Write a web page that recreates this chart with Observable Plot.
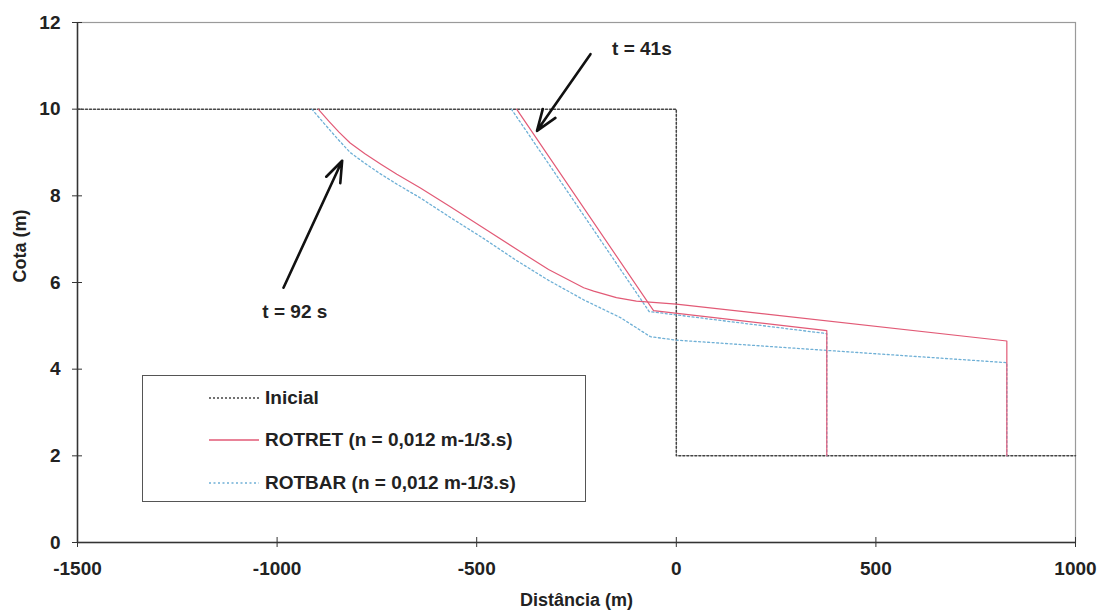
<!DOCTYPE html>
<html>
<head>
<meta charset="utf-8">
<script src="https://cdn.jsdelivr.net/npm/d3@7"></script>
<script src="https://cdn.jsdelivr.net/npm/@observablehq/plot@0.6"></script>
<style>
  html, body { margin: 0; padding: 0; background: #fff; }
  #chart { position: relative; width: 1098px; height: 613px; font-family: "Liberation Sans", Arial, sans-serif; }
  #legend {
    position: absolute; left: 142px; top: 375px; width: 444px; height: 127px;
    border: 1.5px solid #555; background: #fff; box-sizing: border-box;
    font: bold 19px "Liberation Sans", Arial, sans-serif; color: #222;
  }
  .item { position: absolute; left: 66px; display: flex; align-items: center; height: 24px; }
  .item svg { margin-right: 6px; }
</style>
</head>
<body>
<div id="chart"></div>
<script>
// Axis ticks
const xTicks = [-1500, -1000, -500, 0, 500, 1000];
const yTicks = [0, 2, 4, 6, 8, 10, 12];

// Initial profile (dam-break reservoir)
const initialX = [-1500, 0, 0, 1000];
const initialY = [10, 10, 2, 2];

// ROTRET, t = 41 s
const rotret41X = [-400, -57, 377, 377];
const rotret41Y = [10, 5.35, 4.89, 2];
// ROTBAR, t = 41 s
const rotbar41X = [-413, -68, 377, 377];
const rotbar41Y = [10, 5.33, 4.82, 2];

// ROTRET, t = 92 s
const rotret92X = [-897, -870, -845, -817, -780, -740, -700, -641, -566, -480, -399, -320, -232, -207, -150, -100, 0, 828, 828];
const rotret92Y = [10, 9.72, 9.47, 9.22, 8.97, 8.73, 8.5, 8.18, 7.75, 7.24, 6.76, 6.3, 5.88, 5.8, 5.65, 5.57, 5.5, 4.65, 2];
// ROTBAR, t = 92 s
const rotbar92X = [-913, -885, -850, -817, -780, -740, -700, -641, -566, -480, -399, -320, -232, -140, -65, 0, 828, 828];
const rotbar92Y = [10, 9.7, 9.33, 9.0, 8.75, 8.5, 8.27, 7.95, 7.5, 7.0, 6.5, 6.05, 5.6, 5.19, 4.75, 4.67, 4.15, 2];

// Time annotations: label text, label anchor, arrow tail and head
const noteText = ["t = 41s", "t = 92 s"];
const noteX = [-161, -1037];
const noteY = [11.4, 5.31];
const arrowX1 = [-215, -984];
const arrowY1 = [11.27, 5.88];
const arrowX2 = [-349, -837];
const arrowY2 = [9.5, 8.81];

const pts = (xs, ys) => xs.map((x, i) => ({x, y: ys[i]}));
const notes = noteText.map((t, i) => ({t, x: noteX[i], y: noteY[i]}));
const arrows = arrowX1.map((x1, i) => ({x1, y1: arrowY1[i], x2: arrowX2[i], y2: arrowY2[i]}));

const RED = "#e25a76";
const BLUE = "#6fb0d6";
const INIT = "#444";

const plot = Plot.plot({
  width: 1098,
  height: 613,
  marginLeft: 77,
  marginRight: 23,
  marginTop: 22,
  marginBottom: 71,
  style: {fontFamily: "Liberation Sans, Arial, sans-serif", fontWeight: "bold", fontSize: "19px", color: "#222", background: "#fff"},
  x: {domain: [-1500, 1000]},
  y: {domain: [0, 12]},
  marks: [
    Plot.frame({stroke: "#9a9a9a", strokeWidth: 1.2}),
    Plot.axisX({ticks: xTicks, tickFormat: d => String(d), tickSize: 10, dy: -5, tickPadding: 14, label: null, stroke: "#333", fontSize: 19, fontWeight: "bold"}),
    Plot.axisY({ticks: yTicks, tickFormat: d => String(d), tickSize: 10, dx: 5, tickPadding: 12, label: null, stroke: "#333", fontSize: 19, fontWeight: "bold"}),
    Plot.ruleX([-1500], {stroke: "#333", strokeWidth: 1.5}),
    Plot.ruleY([0], {stroke: "#333", strokeWidth: 1.5}),
    Plot.line(pts(initialX, initialY), {x: "x", y: "y", stroke: INIT, strokeWidth: 1.5, strokeDasharray: "2,2"}),
    Plot.line(pts(rotbar41X, rotbar41Y), {x: "x", y: "y", stroke: BLUE, strokeWidth: 1.3, strokeDasharray: "2,2.5"}),
    Plot.line(pts(rotbar92X, rotbar92Y), {x: "x", y: "y", stroke: BLUE, strokeWidth: 1.3, strokeDasharray: "2,2.5"}),
    Plot.line(pts(rotret41X, rotret41Y), {x: "x", y: "y", stroke: RED, strokeWidth: 1.2}),
    Plot.line(pts(rotret92X, rotret92Y), {x: "x", y: "y", stroke: RED, strokeWidth: 1.2}),
    Plot.arrow(arrows, {x1: "x1", y1: "y1", x2: "x2", y2: "y2", stroke: "#111", strokeWidth: 2.6, headLength: 13, headAngle: 40}),
    Plot.text(notes, {x: "x", y: "y", text: "t", textAnchor: "start", fontSize: 19, fontWeight: "bold", fill: "#222"}),
    Plot.text(["Distância (m)"], {frameAnchor: "bottom", dy: 63, fontSize: 18, fontWeight: "bold", fill: "#222"}),
    Plot.text(["Cota (m)"], {frameAnchor: "left", dx: -57, rotate: -90, fontSize: 18, fontWeight: "bold", fill: "#222"})
  ]
});

const chart = document.getElementById("chart");
chart.appendChild(plot);

// Legend box drawn over the plot area
const legendItems = [
  {label: "Inicial", stroke: INIT, dash: "2,2", width: 1.5},
  {label: "ROTRET (n = 0,012 m-1/3.s)", stroke: RED, dash: null, width: 1.3},
  {label: "ROTBAR (n = 0,012 m-1/3.s)", stroke: BLUE, dash: "2,2.5", width: 1.3}
];
const legendTops = [10, 52, 95];
const legend = document.createElement("div");
legend.id = "legend";
legendItems.forEach((d, i) => {
  const row = document.createElement("div");
  row.className = "item";
  row.style.top = legendTops[i] + "px";
  row.innerHTML = `<svg width="50" height="4"><line x1="0" y1="2" x2="50" y2="2" stroke="${d.stroke}" stroke-width="${d.width}"${d.dash ? ` stroke-dasharray="${d.dash}"` : ""}/></svg><span>${d.label}</span>`;
  legend.appendChild(row);
});
chart.appendChild(legend);
</script>
</body>
</html>
